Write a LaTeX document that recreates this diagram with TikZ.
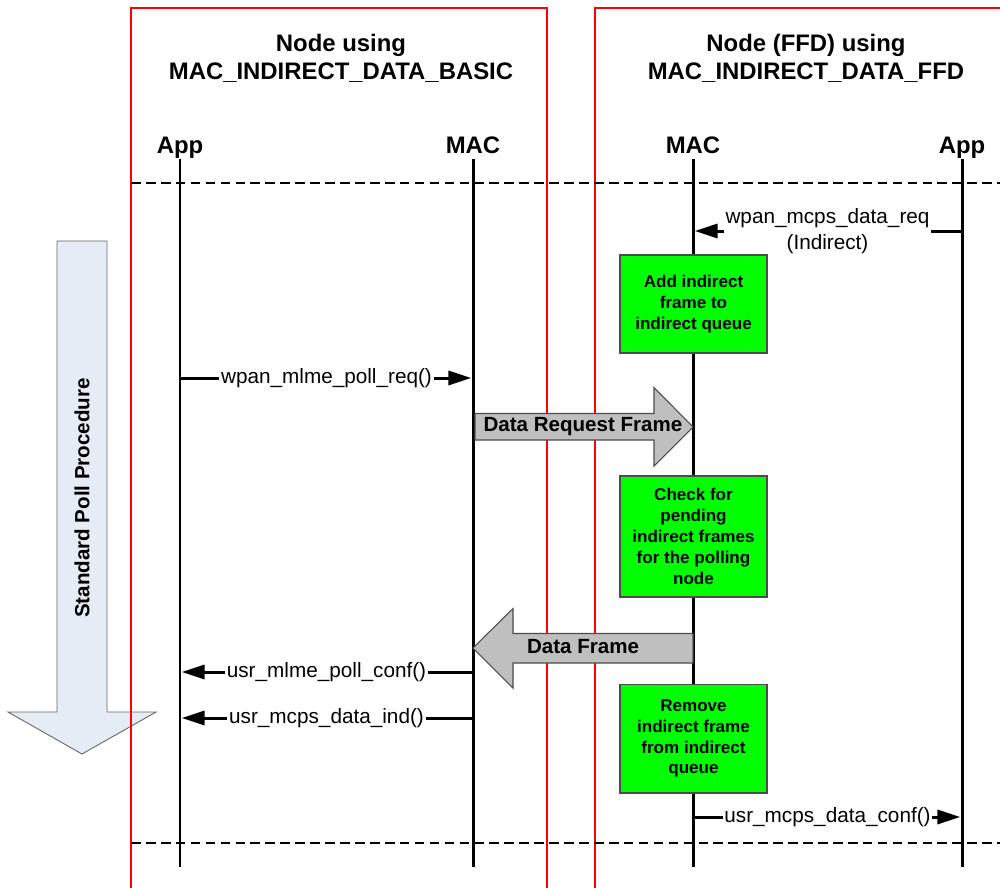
\documentclass[tikz,border=0pt]{standalone}
\usepackage{fontspec}
\setmainfont{Liberation Sans}
\usetikzlibrary{arrows.meta}
\usetikzlibrary{calc}

\definecolor{pollblue}{RGB}{230,236,246}

\begin{document}
\begin{tikzpicture}[x=0.02cm, y=-0.02cm,
    frame/.style={draw=red, line width=1pt},
    title/.style={font=\fontsize{13.6}{16}\selectfont\bfseries, align=center},
    head/.style={font=\fontsize{13.6}{16}\selectfont\bfseries, inner sep=0pt, anchor=base},
    lifeline/.style={line width=1.7pt},
    sep/.style={line width=1.2pt, dash pattern=on 5.5pt off 3pt},
    msg/.style={line width=1.7pt, -{Triangle[length=13pt, width=8pt]}, shorten >=1pt},
    lbl/.style={fill=white, inner sep=1pt, font=\fontsize{11.8}{15}\selectfont, align=center},
    work/.style={draw=black!70, line width=0.6pt, fill=green, minimum width=2.94cm,
        font=\fontsize{9.7}{11.9}\selectfont\bfseries, align=center},
    bigarrow/.style={draw=black!70, line width=0.6pt, fill=black!25},
    bigtext/.style={font=\fontsize{11.7}{14}\selectfont\bfseries}]
    \clip (0,0) rectangle (1000,887);
    \fill[white] (0,0) rectangle (1000,887);

    % poll procedure
    \draw[draw=black!60, line width=0.5pt, fill=pollblue] (57,241) -- (107,241) -- (107,712) -- (156,712)
        -- (82,754) -- (8,712) -- (57,712) -- cycle;
    \node[bigtext, rotate=90] (poll) at (82,498) {Standard Poll Procedure};

    % the two nodes
    \draw[frame] (131,895) -- (131,8) -- (547,8) -- (547,895);
    \draw[frame] (595,895) -- (595,8) -- (1010,8) -- (1010,895);
    \node[title] (basic) at (341,58) {Node using\\MAC\_INDIRECT\_DATA\_BASIC};
    \node[title] (ffd) at (806,58) {Node (FFD) using\\MAC\_INDIRECT\_DATA\_FFD};

    \node[head] (appL) at (180,153) {App};
    \node[head] (macL) at (473,153) {MAC};
    \node[head] (macR) at (693,153) {MAC};
    \node[head] (appR) at (962,153) {App};

    \draw[sep] (131,183) -- (1000,183);
    \draw[sep] (131,843) -- (1000,843);

    \coordinate (top) at (0,159);
    \coordinate (bot) at (0,867);
    \foreach \n in {appL, macL, macR, appR}
        \draw[lifeline] (\n |- top) -- (\n |- bot);

    % rows
    \coordinate (datareq) at (0,231);
    \coordinate (pollreq) at (0,378);
    \coordinate (dreq) at (0,427);
    \coordinate (dfr) at (0,648);
    \coordinate (pollconf) at (0,672);
    \coordinate (dataind) at (0,718);
    \coordinate (dataconf) at (0,817);

    % primitives
    \draw[msg] (appR |- datareq) -- node[lbl] {wpan\_mcps\_data\_req\\(Indirect)} (macR |- datareq);
    \draw[msg] (appL |- pollreq) -- node[lbl] {wpan\_mlme\_poll\_req()} (macL |- pollreq);
    \draw[msg] (macL |- pollconf) -- node[lbl] {usr\_mlme\_poll\_conf()} (appL |- pollconf);
    \draw[msg] (macL |- dataind) -- node[lbl] {usr\_mcps\_data\_ind()} (appL |- dataind);
    \draw[msg] (macR |- dataconf) -- node[lbl] {usr\_mcps\_data\_conf()} (appR |- dataconf);

    % frames over the air
    \draw[bigarrow] (macL |- dreq) ++(2,-13.5) -- ++(179,0) -- ++(0,-26) -- (macR |- dreq)
        -- ++(-39,39) -- ++(0,-26) -- ++(-179,0) -- cycle;
    \node[bigtext] (reqframe) at ($(macL |- dreq)!0.5!(macR |- dreq)$) {Data Request Frame};

    \draw[bigarrow] (macR |- dfr) ++(0,-14.5) -- ++(-180,0) -- ++(0,-25) -- (macL |- dfr)
        -- ++(40,40) -- ++(0,-25) -- ++(180,0) -- cycle;
    \node[bigtext] (dataframe) at ($(macL |- dfr)!0.5!(macR |- dfr)+(0,-1)$) {Data Frame};

    % processing at the FFD
    \node[work, minimum height=1.96cm] (addq) at (693.5,304) {Add indirect\\frame to\\indirect queue};
    \node[work, minimum height=2.42cm] (chk) at (693.5,536.5) {Check for\\pending\\indirect frames\\for the polling\\node};
    \node[work, minimum height=2.18cm] (remq) at (693.5,738.5) {Remove\\indirect frame\\from indirect\\queue};
\end{tikzpicture}
\end{document}
